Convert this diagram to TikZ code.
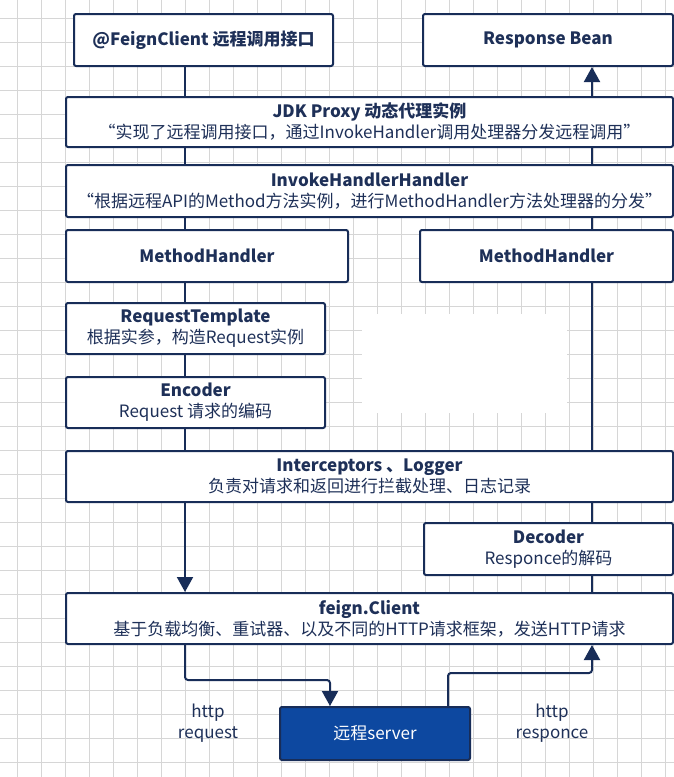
\documentclass[tikz,border=0pt]{standalone}
\usepackage{fontspec}
\setmainfont{Noto Sans CJK SC}
\usetikzlibrary{arrows.meta,calc}
\definecolor{navy}{RGB}{24,45,88}
\definecolor{textc}{RGB}{30,48,88}
\definecolor{gridc}{RGB}{214,214,214}
\definecolor{serverc}{RGB}{13,72,160}
\tikzset{
  box/.style={draw=navy,line width=2pt,fill=white,rounded corners=2pt,inner sep=0pt,align=center,text=textc,font=\fontsize{17}{21}\selectfont},
  conn/.style={draw=navy,line width=2pt},
  arr/.style={-{Triangle[width=16pt,length=15pt]}},
  lbl/.style={text=textc,align=center,font=\fontsize{17}{21}\selectfont},
}
\begin{document}
\begin{tikzpicture}[x=1pt,y=-1pt]
\useasboundingbox (0,0) rectangle (674,777);
\fill[white] (0,0) rectangle (674,777);
% grid
\foreach \i in {0,...,27} {\draw[gridc,line width=0.9pt] (17.5+24*\i,0) -- (17.5+24*\i,777);}
\foreach \j in {0,...,32} {\draw[gridc,line width=0.9pt] (0,18.5+24*\j) -- (674,18.5+24*\j);}
\fill[white] (362,314) rectangle (567,413);
\coordinate (L) at (185,0);
\coordinate (R) at (592,0);
% boxes
\node[box,minimum width=259pt,minimum height=52pt] (feign) at (203.5,40) {\textbf{@FeignClient 远程调用接口}};
\node[box,minimum width=250pt,minimum height=52pt] (resp) at (548,40) {\textbf{Response Bean}};
\node[box,minimum width=607pt,minimum height=50pt] (jdk) at (369.5,122) {\textbf{JDK Proxy 动态代理实例}\\“实现了远程调用接口，通过InvokeHandler调用处理器分发远程调用”};
\node[box,minimum width=607pt,minimum height=52pt] (invoke) at (369.5,191) {\textbf{InvokeHandlerHandler}\\“根据远程API的Method方法实例，进行MethodHandler方法处理器的分发”};
\node[box,minimum width=282pt,minimum height=52pt] (mh1) at (207,256) {\textbf{MethodHandler}};
\node[box,minimum width=253pt,minimum height=52pt] (mh2) at (546.5,256) {\textbf{MethodHandler}};
\node[box,minimum width=259pt,minimum height=51pt] (rt) at (195.5,328.5) {\textbf{RequestTemplate}\\根据实参，构造Request实例};
\node[box,minimum width=259pt,minimum height=51pt] (enc) at (195.5,402.5) {\textbf{Encoder}\\Request 请求的编码};
\node[box,minimum width=607pt,minimum height=51pt] (inter) at (369.5,476.5) {\textbf{Interceptors 、Logger}\\负责对请求和返回进行拦截处理、日志记录};
\node[box,minimum width=249pt,minimum height=52pt] (dec) at (548.5,549) {\textbf{Decoder}\\Responce的解码};
\node[box,minimum width=607pt,minimum height=51pt] (client) at (369.5,618.5) {\textbf{feign.Client}\\基于负载均衡、重试器、以及不同的HTTP请求框架，发送HTTP请求};
\node[box,fill=serverc,text=white,minimum width=190pt,minimum height=53pt] (server) at (375,733.5) {远程server};
% left chain
\draw[conn] (feign.south -| L) -- (jdk.north -| L);
\draw[conn] (jdk.south -| L) -- (invoke.north -| L);
\draw[conn] (invoke.south -| L) -- (mh1.north -| L);
\draw[conn] (mh1.south -| L) -- (rt.north -| L);
\draw[conn] (rt.south -| L) -- (enc.north -| L);
\draw[conn] (enc.south -| L) -- (inter.north -| L);
\draw[conn,arr] (inter.south -| L) -- (client.north -| L);
% right chain
\draw[conn] (client.north -| R) -- (dec.south -| R);
\draw[conn] (dec.north -| R) -- (inter.south -| R);
\draw[conn] (inter.north -| R) -- (mh2.south -| R);
\draw[conn] (mh2.north -| R) -- (invoke.south -| R);
\draw[conn] (invoke.north -| R) -- (jdk.south -| R);
\draw[conn,arr] (jdk.north -| R) -- (resp.south -| R);
% bottom loop
\coordinate (t1) at (185,680);
\coordinate (t2) at (330,680);
\coordinate (t3) at (448,673);
\coordinate (t4) at (592,673);
\draw[conn,arr,rounded corners=3pt] (client.south -| t1) -- (t1) -- (t2) -- (server.north -| t2);
\draw[conn,arr,rounded corners=3pt] (server.north -| t3) -- (t3) -- (t4) -- (client.south -| t4);
\node[lbl] (lreq) at (208,723) {http\\request};
\node[lbl] (lresp) at (552,723) {http\\responce};
\end{tikzpicture}
\end{document}
